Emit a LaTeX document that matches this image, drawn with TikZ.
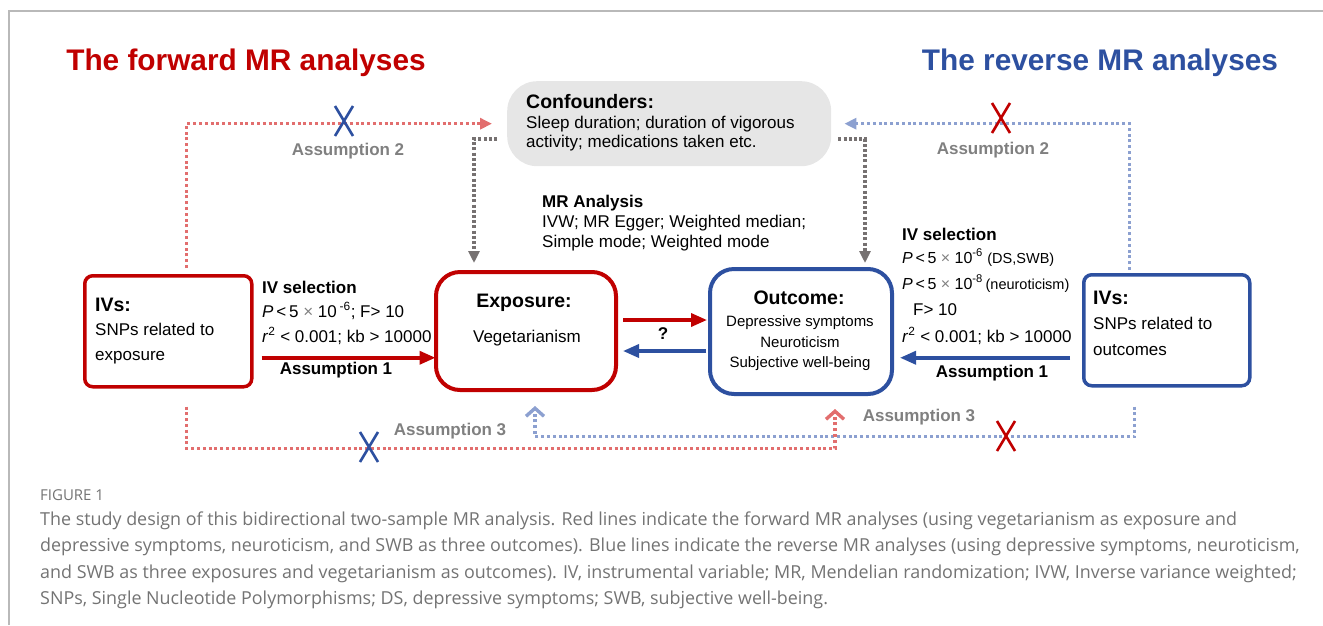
\documentclass[tikz,border=0pt]{standalone}
\usepackage{fontspec}
\setmainfont{Liberation Sans}
\newfontfamily\capfont{Open Sans}
\usetikzlibrary{arrows.meta}
\definecolor{fred}{RGB}{192,0,0}
\definecolor{fblue}{RGB}{45,80,160}
\definecolor{lred}{RGB}{226,110,110}
\definecolor{lblue}{RGB}{140,160,208}
\definecolor{gtext}{RGB}{128,128,128}
\definecolor{gdot}{RGB}{118,113,113}
\definecolor{confgray}{RGB}{230,230,230}
\definecolor{framec}{RGB}{185,185,185}
\definecolor{captext}{RGB}{115,115,115}
\newcommand{\fs}[1]{\fontsize{#1}{#1}\selectfont}
\tikzset{
  txt/.style={inner sep=0pt, anchor=base west, font=\fs{17}},
  txtc/.style={inner sep=0pt, anchor=base, font=\fs{17}},
  hd/.style={inner sep=0pt, font=\fs{19.5}\bfseries},
  ttl/.style={inner sep=0pt, anchor=base, font=\fs{29.8}\bfseries},
  asm/.style={inner sep=0pt, anchor=base, font=\fs{17}\bfseries},
  gasm/.style={inner sep=0pt, anchor=base, font=\fs{17}\bfseries, text=gtext},
  ivbox/.style={draw=#1, line width=3.5pt, rounded corners=8pt, anchor=north west, minimum width=167pt, minimum height=111pt, inner sep=0pt},
  bigbox/.style={draw=#1, line width=4pt, rounded corners=24pt, anchor=north west, inner sep=0pt},
  solidarr/.style={draw=#1, line width=3.5pt, -{Triangle[length=16pt,width=13pt]}},
  dotA/.style={draw=#1, line width=3.4pt, dash pattern=on 3pt off 2.8pt, -{Triangle[length=12pt,width=11pt]}},
  dotB/.style={draw=#1, line width=3.4pt, dash pattern=on 3pt off 2.8pt, -{Straight Barb[length=8pt,width=18pt]}},
  gdotted/.style={draw=gdot, line width=3.6pt, dash pattern=on 3pt off 2.2pt, -{Triangle[length=12pt,width=11pt]}},
  xm/.pic={\draw[line width=2.6pt] (-9,-15) -- (9,15) (9,-15) -- (-9,15);},
  captxt/.style={inner sep=0pt, anchor=base west, font=\capfont\fs{17.9}, text=captext}
}
\begin{document}
\begin{tikzpicture}[x=1pt,y=-1pt]
\useasboundingbox (0,0) rectangle (1323,625);
\draw[framec, line width=1.5pt] (9,625) -- (9,11) -- (1323,11);

% titles
\node[ttl, text=fred] (t1) at (246,70) {The forward MR analyses};
\node[ttl, text=fblue] (t2) at (1100,70) {The reverse MR analyses};

% confounders
\node[fill=confgray, rounded corners=30pt, anchor=north west, minimum width=324pt, minimum height=85pt, inner sep=0pt] (conf) at (507,81) {};
\node[hd, anchor=base west] (conf1) at (526,108) {Confounders:};
\node[txt] (conf2) at (526,128) {Sleep duration; duration of vigorous};
\node[txt] (conf3) at (526,147) {activity; medications taken etc.};

% MR analysis
\node[txt, font=\fs{17}\bfseries] (mr1) at (542,207) {MR Analysis};
\node[txt] (mr2) at (542,227) {IVW; MR Egger; Weighted median;};
\node[txt] (mr3) at (542,247) {Simple mode; Weighted mode};

% left IVs
\node[ivbox=fred] (ivl) at (83,274) {};
\node[hd, anchor=base west] (ivl1) at (95,311) {IVs:};
\node[txt] (ivl2) at (95,335) {SNPs related to};
\node[txt] (ivl3) at (95,360) {exposure};

% left IV selection
\node[txt, font=\fs{17}\bfseries] (sl1) at (262,293) {IV selection};
\node[txt] (sl2) at (262,317) {\textit{P}\,<\,5 {\color{gray}×} 10\,\textsuperscript{-6}; F> 10};
\node[txt] (sl3) at (262,342) {\textit{r}\textsuperscript{2} < 0.001; kb > 10000};
\node[asm] (a1l) at (336,374) {Assumption 1};

% exposure
\node[bigbox=fred, minimum width=180pt, minimum height=118pt] (expo) at (434,270) {};
\node[hd, anchor=base] (expo1) at (524,307) {Exposure:};
\node[txtc] (expo2) at (527,342) {Vegetarianism};

% outcome
\node[bigbox=fblue, minimum width=182pt, minimum height=125pt] (outc) at (708,267) {};
\node[hd, anchor=base] (outc1) at (799,304) {Outcome:};
\node[txtc, font=\fs{15}] (outc2) at (800,326) {Depressive symptoms};
\node[txtc, font=\fs{15}] (outc3) at (800,347) {Neuroticism};
\node[txtc, font=\fs{15}] (outc4) at (800,367) {Subjective well-being};

% right IV selection
\node[txt, font=\fs{17}\bfseries] (sr1) at (902,240) {IV selection};
\node[txt, font=\fs{16}] (sr2) at (902,263) {\textit{P}\,<\,5 {\color{gray}×} 10\textsuperscript{-6} {\fs{14.5}(DS,SWB)}};
\node[txt, font=\fs{16}] (sr3) at (902,289) {\textit{P}\,<\,5 {\color{gray}×} 10\textsuperscript{-8}\,{\fs{14.5}(neuroticism)}};
\node[txt] (sr4) at (913,315) {F> 10};
\node[txt] (sr5) at (902,342) {\textit{r}\textsuperscript{2} < 0.001; kb > 10000};
\node[asm] (a1r) at (992,377) {Assumption 1};

% right IVs
\node[ivbox=fblue, minimum width=166pt] (ivr) at (1082,273) {};
\node[hd, anchor=base west] (ivr1) at (1093,304) {IVs:};
\node[txt] (ivr2) at (1093,329) {SNPs related to};
\node[txt] (ivr3) at (1093,355) {outcomes};

% solid arrows
\draw[solidarr=fred] ([shift={(8,26.5)}]ivl.east) -- ++(174,0);
\draw[solidarr=fblue] ([shift={(-12,27.5)}]ivr.west) -- ++(-170,0);
\draw[solidarr=fred] ([shift={(5,-11)}]expo.east) -- ([shift={(-1,-11.5)}]outc.west);
\draw[solidarr=fblue] ([shift={(-2,19.5)}]outc.west) -- ([shift={(5,20)}]expo.east);
\node[asm] (q) at (663,339) {?};

% assumption 2 dotted
\draw[dotA=lred] ([shift={(18.5,-6)}]ivl.north) |- ([xshift=-15pt]conf.west);
\draw[dotA=lblue] ([shift={(-37,-3)}]ivr.north) |- ([xshift=13pt]conf.east);
\pic[fblue] at (344,121) {xm};
\pic[fred] at (1001,118) {xm};
\node[gasm] (a2l) at (348,155) {Assumption 2};
\node[gasm] (a2r) at (993,154) {Assumption 2};

% confounder arrows
\draw[gdotted] ([shift={(-10,15.5)}]conf.west) -| ([shift={(-52,-7)}]expo.north);
\draw[gdotted] ([shift={(7,15.5)}]conf.east) -| ([shift={(64,-4)}]outc.north);

% assumption 3 dotted
\draw[dotB=lblue] ([shift={(-32,19)}]ivr.south) -- ++(0,30) -| ([shift={(9,14)}]expo.south);
\draw[dotB=lred] ([shift={(18.5,18)}]ivl.south) -- ++(0,42) -| ([shift={(34,13)}]outc.south);
\pic[fblue] at (369,447) {xm};
\pic[fred] at (1006,436) {xm};
\node[gasm] (a3l) at (450,435) {Assumption 3};
\node[gasm] (a3r) at (919,421) {Assumption 3};

% caption
\node[captxt, font=\capfont\fs{15}] (fig) at (40,500) {FIGURE 1};
\node[captxt] (c1) at (40,525) {The study design of this bidirectional two-sample MR analysis. Red lines indicate the forward MR analyses (using vegetarianism as exposure and};
\node[captxt] (c2) at (40,551) {depressive symptoms, neuroticism, and SWB as three outcomes). Blue lines indicate the reverse MR analyses (using depressive symptoms, neuroticism,};
\node[captxt] (c3) at (40,578) {and SWB as three exposures and vegetarianism as outcomes). IV, instrumental variable; MR, Mendelian randomization; IVW, Inverse variance weighted;};
\node[captxt] (c4) at (40,604) {SNPs, Single Nucleotide Polymorphisms; DS, depressive symptoms; SWB, subjective well-being.};
\end{tikzpicture}
\end{document}
